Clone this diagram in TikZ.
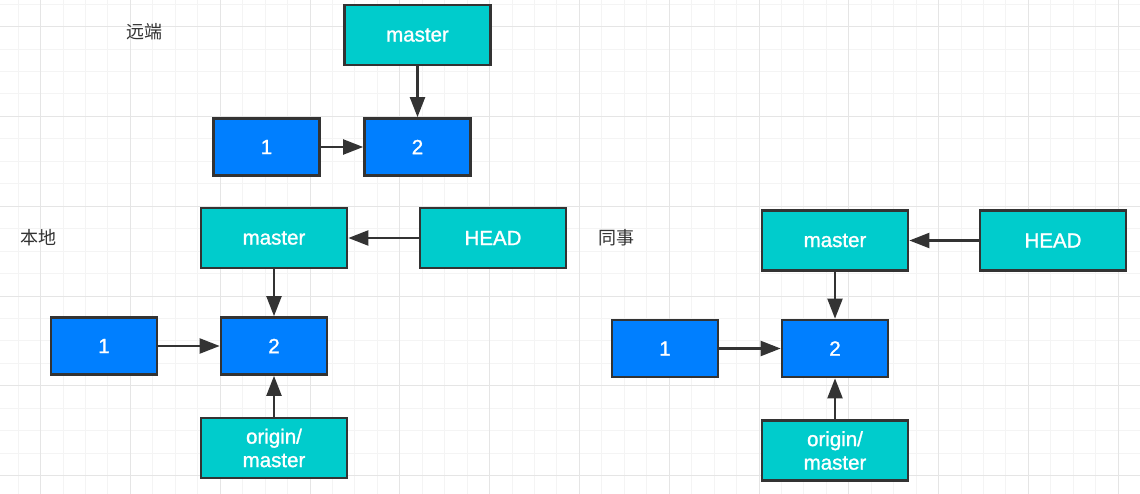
\documentclass[tikz,border=0pt]{standalone}
\usepackage{fontspec}
\setmainfont{Liberation Sans}
\newfontfamily\boxfont[FakeBold=1.2]{Liberation Sans}
\newfontfamily\cjk{Noto Sans CJK SC}
\usepackage{tikz}
\usetikzlibrary{shapes,arrows.meta,positioning}
\definecolor{boxcyan}{HTML}{00CCCC}
\definecolor{boxblue}{HTML}{007FFF}
\definecolor{ink}{HTML}{333333}
\tikzstyle{branch} = [draw=ink, line width=2.7pt, fill=boxcyan, text=white,
    minimum width=146pt, minimum height=60pt, align=center,
    font=\boxfont\fontsize{20.5}{23.5}\selectfont]
\tikzstyle{commit} = [branch, fill=boxblue, minimum width=106pt, minimum height=57pt]
\tikzstyle{label} = [text=ink, inner sep=0pt, font=\cjk\fontsize{18}{20}\selectfont]
\tikzstyle{arrow} = [draw=ink, line width=2.2pt, -{Triangle[length=20pt,width=15pt]}]

\begin{document}
\begin{tikzpicture}[x=1pt, y=-1pt]
  \fill[white] (0,0) rectangle (1140,494);
  \useasboundingbox (0,0) rectangle (1140,494);
  % background grid
  \foreach \i in {1,...,51} \draw[gray!9, line width=1pt] (-4.3+22.45*\i,0) -- (-4.3+22.45*\i,494);
  \foreach \j in {0,...,21} \draw[gray!9, line width=1pt] (0,4.2+22.45*\j) -- (1140,4.2+22.45*\j);
  \foreach \i in {0,...,12} \draw[gray!20, line width=1pt] (40.6+89.8*\i,0) -- (40.6+89.8*\i,494);
  \foreach \j in {0,...,5} \draw[gray!20, line width=1pt] (0,26.7+89.8*\j) -- (1140,26.7+89.8*\j);

  % remote
  \node [label] (remote) at (144,32) {远端};
  \node [branch] (rmaster) at (417.5,35) {master};
  \node [commit, below of=rmaster, node distance=112pt] (r2) {2};
  \node [commit, left of=r2, node distance=151pt] (r1) {1};
  \draw [arrow] (rmaster) -- (r2);
  \draw [arrow] (r1) -- (r2);

  % local
  \node [label] (local) at (38,238) {本地};
  \node [branch] (lmaster) at (274,238) {master};
  \node [branch, right of=lmaster, node distance=219pt] (lhead) {HEAD};
  \node [commit, below of=lmaster, node distance=108pt] (l2) {2};
  \node [commit, left of=l2, node distance=170pt] (l1) {1};
  \node [branch, below of=l2, node distance=102pt] (lorigin) {origin/\\master};
  \draw [arrow] (lhead) -- (lmaster);
  \draw [arrow] (lmaster) -- (l2);
  \draw [arrow] (l1) -- (l2);
  \draw [arrow] (lorigin) -- (l2);

  % coworker
  \node [label] (mate) at (616,238) {同事};
  \node [branch] (cmaster) at (835,240.5) {master};
  \node [branch, right of=cmaster, node distance=218pt] (chead) {HEAD};
  \node [commit, below of=cmaster, node distance=108pt] (c2) {2};
  \node [commit, left of=c2, node distance=170pt] (c1) {1};
  \node [branch, below of=c2, node distance=102pt] (corigin) {origin/\\master};
  \draw [arrow] (chead) -- (cmaster);
  \draw [arrow] (cmaster) -- (c2);
  \draw [arrow] (c1) -- (c2);
  \draw [arrow] (corigin) -- (c2);
\end{tikzpicture}
\end{document}
